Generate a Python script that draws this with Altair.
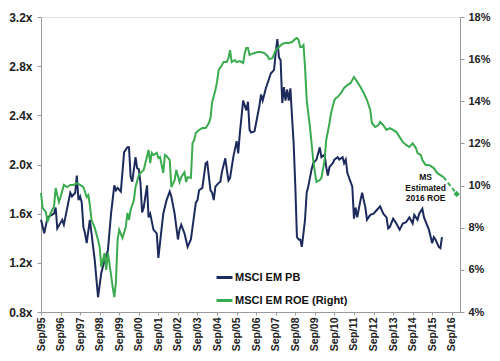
import altair as alt
import pandas as pd

# months since Sep 1995
pb_m = [0,2,4,8,9,10,13,14,17,18,
        19,21,22,23,24,25,26,27,28,30,
        31,33,35,37,39,41,43,45,46,47,
        49,51,53,54,55,56,58,59,60,61,
        62,63,65,66,67,69,71,72,73,75,
        77,79,80,82,84,85,86,88,90,92,
        93,95,96,97,99,101,102,104,105,106,
        107,109,110,111,113,114,115,116,118,120,
        121,122,124,126,127,128,129,131,132,134,
        135,136,138,140,141,143,144,145,146,147,
        148,149,150,151,152,153,154,155,156,157,
        158,159,160,162,163,164,166,167,169,170,
        171,172,174,175,176,177,179,180,182,183,
        185,186,187,188,191,192,193,194,196,197,
        198,199,200,202,204,206,208,210,212,213,
        214,216,218,220,222,224,226,228,229,231,
        232,234,235,238,240,241,242,244,245,246]
pb_v = [1.55,1.44,1.57,1.60,1.65,1.48,1.55,1.51,1.71,1.77,
        1.74,1.77,1.91,1.71,1.74,1.69,1.49,1.44,1.36,1.55,
        1.44,1.22,0.92,1.12,1.22,1.30,1.60,1.83,1.79,1.81,
        1.78,2.10,2.14,2.14,1.90,1.86,2.06,1.97,1.96,1.85,
        1.61,1.65,1.83,1.57,1.60,1.47,1.44,1.24,1.36,1.60,
        1.71,1.78,1.74,1.60,1.39,1.47,1.51,1.44,1.33,1.39,
        1.49,1.69,1.71,1.79,1.81,2.01,2.02,1.79,1.77,1.71,
        1.82,1.85,1.86,1.94,2.05,1.96,1.87,1.89,2.06,2.19,
        2.09,2.26,2.52,2.44,2.51,2.28,2.26,2.27,2.34,2.48,
        2.57,2.52,2.62,2.70,2.74,2.77,2.91,3.02,2.87,2.85,
        2.50,2.63,2.52,2.61,2.52,2.62,2.39,2.17,1.82,1.41,
        1.39,1.39,1.33,1.55,1.77,1.82,1.96,2.01,2.04,2.09,
        2.14,2.06,2.08,1.98,1.91,1.98,2.01,2.04,2.06,2.04,
        2.06,2.01,2.04,1.93,1.82,1.56,1.65,1.57,1.71,1.77,
        1.71,1.65,1.55,1.59,1.60,1.63,1.66,1.60,1.57,1.48,
        1.49,1.56,1.52,1.47,1.52,1.53,1.57,1.52,1.59,1.55,
        1.60,1.64,1.57,1.47,1.36,1.41,1.39,1.33,1.32,1.41]

roe_m = [0,1,3,4,6,8,9,11,12,14,
         16,18,20,22,24,26,28,29,30,31,
         33,35,36,37,39,40,41,42,44,45,
         46,47,48,50,52,53,54,55,57,58,
         60,61,63,64,66,67,68,69,71,72,
         73,75,76,77,79,80,82,83,85,86,
         88,89,90,92,93,94,95,97,99,101,
         103,104,105,107,108,109,111,112,114,115,
         116,117,119,120,122,124,125,126,127,128,
         129,131,133,135,137,139,140,142,144,146,
         148,150,152,154,156,157,158,159,160,161,
         162,163,165,166,167,168,169,171,172,174,
         175,177,178,180,181,182,184,186,188,190,
         192,194,196,198,200,202,203,205,207,208,
         210,212,214,216,218,220,222,224,226,228,
         230,231,233,234,236,238,241,243,245,247]
roe_v = [9.65,8.93,8.75,8.27,8.70,9.00,9.88,9.22,9.46,10.03,
         9.93,10.03,10.03,10.12,10.03,9.93,9.46,9.55,9.08,8.37,
         7.99,7.42,7.08,6.14,6.80,6.00,6.80,6.32,5.19,4.71,
         5.38,7.42,7.90,7.51,8.03,8.70,8.37,8.84,9.31,9.93,
         10.50,10.60,10.74,11.07,11.69,11.07,11.55,11.45,11.55,11.31,
         11.36,10.60,11.45,11.40,11.21,9.93,10.26,10.74,10.17,10.40,
         10.64,10.17,10.40,10.36,12.02,12.16,12.49,12.64,12.73,12.73,
         12.97,13.20,13.97,14.54,14.92,15.49,15.72,15.86,15.86,16.05,
         16.43,15.86,15.96,15.86,15.91,15.82,16.29,16.53,16.53,16.20,
         16.24,16.29,16.34,16.34,16.29,16.15,16.00,16.05,16.43,16.58,
         16.72,16.77,16.77,16.81,16.96,17.00,16.91,16.58,16.58,16.67,
         15.63,14.06,12.78,12.02,11.21,10.64,10.17,10.26,10.36,11.21,
         12.16,12.97,13.44,14.06,14.16,14.20,14.39,14.63,14.77,14.87,
         15.15,14.92,14.68,14.39,14.06,13.59,12.97,12.78,12.87,13.02,
         12.87,12.64,12.73,12.64,12.54,12.30,12.07,11.93,11.83,12.00,
         11.78,11.54,11.45,11.21,10.98,10.98,10.83,10.60,10.50,10.40]

est_m = [247, 255]
est_v = [10.40, 9.60]

note_m = [236]
note_v = [10.40]
note_text = ["MS\nEstimated\n2016 ROE"]

series_names = ["MSCI EM PB", "MSCI EM ROE (Right)"]
series_colors = ["#1c2a5c", "#3bab4f"]

pb_ticks = [0.8, 1.2, 1.6, 2.0, 2.4, 2.8, 3.2]
roe_ticks = [4, 6, 8, 10, 12, 14, 16, 18]
years = list(range(1995, 2017))

assert len(pb_m) == len(pb_v) and len(roe_m) == len(roe_v)

start = pd.Timestamp(1995, 9, 1)
def to_dates(ms):
    return [start + pd.DateOffset(months=m) for m in ms]

pb_df = pd.DataFrame({"date": to_dates(pb_m), "value": pb_v, "series": series_names[0]})
roe_df = pd.DataFrame({"date": to_dates(roe_m), "value": roe_v, "series": series_names[1]})
est_df = pd.DataFrame({"date": to_dates(est_m), "value": est_v})
note_df = pd.DataFrame({"date": to_dates(note_m), "value": note_v, "text": note_text})

FONT = "Liberation Sans"
AX = "#9a9a9a"

x_enc = alt.X(
    "date:T",
    title=None,
    scale=alt.Scale(domain=[alt.DateTime(year=1995, month=9, date=1),
                            alt.DateTime(year=2017, month=2, date=1)]),
    axis=alt.Axis(values=[alt.DateTime(year=y, month=9, date=1) for y in years],
                  format="%b/%y", labelAngle=270, labelFontSize=10.5,
                  labelFont=FONT, labelFontWeight="bold", labelColor="#222",
                  tickSize=3, tickColor=AX, domainColor=AX, labelPadding=2,
                  grid=False, labelOverlap=False),
)

color_enc = alt.Color(
    "series:N",
    scale=alt.Scale(domain=series_names, range=series_colors),
    legend=alt.Legend(title=None, orient="none", legendX=174, legendY=251,
                      symbolType="stroke", symbolSize=256, symbolStrokeWidth=3,
                      labelFont=FONT, labelFontSize=11, labelFontWeight="bold",
                      labelColor="#111", rowPadding=7, padding=0, labelOffset=1),
)

y_pb = alt.Y("value:Q", title=None,
             scale=alt.Scale(domain=[0.8, 3.2], nice=False, zero=False),
             axis=alt.Axis(orient="left", values=pb_ticks,
                           labelExpr="format(datum.value, '.1f') + 'x'",
                           labelFont=FONT, labelFontSize=12, labelFontWeight="bold",
                           labelColor="#222", tickSize=4, tickColor=AX,
                           domainColor=AX, labelPadding=5, grid=False))

y_roe = alt.Y("value:Q", title=None,
              scale=alt.Scale(domain=[4, 18], nice=False, zero=False),
              axis=alt.Axis(orient="right", values=roe_ticks,
                            labelExpr="datum.value + '%'",
                            labelFont=FONT, labelFontSize=11, labelFontWeight="bold",
                            labelColor="#222", tickSize=4, tickColor=AX,
                            domainColor=AX, labelPadding=4, grid=False))

pb_line = alt.Chart(pb_df).mark_line(strokeWidth=2).encode(x=x_enc, y=y_pb, color=color_enc)

roe_line = alt.Chart(roe_df).mark_line(strokeWidth=2).encode(x=x_enc, y=y_roe, color=color_enc)
est_line = alt.Chart(est_df).mark_line(strokeWidth=2, strokeDash=[4, 3], color=series_colors[1]).encode(
    x=x_enc, y=y_roe)
est_point = alt.Chart(est_df.tail(1)).mark_point(shape="diamond", filled=True, size=40,
                                                 color=series_colors[1], opacity=1).encode(
    x=x_enc, y=y_roe)
note = alt.Chart(note_df).mark_text(font=FONT, fontSize=8.5, fontWeight="bold", color="#111",
                                    lineBreak="\n", lineHeight=10.5, align="center",
                                    baseline="middle").encode(
    x=x_enc, y=y_roe, text="text:N")

roe_layer = alt.layer(roe_line, est_line, est_point, note)

chart = alt.layer(pb_line, roe_layer).resolve_scale(y="independent").properties(
    width=419, height=295,
    autosize=alt.AutoSizeParams(type="none"),
    padding={"left": 33, "top": 9, "right": 32, "bottom": 41},
).configure_view(stroke=None).configure(background="white")

chart.save("out.html", embed_options={"renderer": "svg", "actions": False})
